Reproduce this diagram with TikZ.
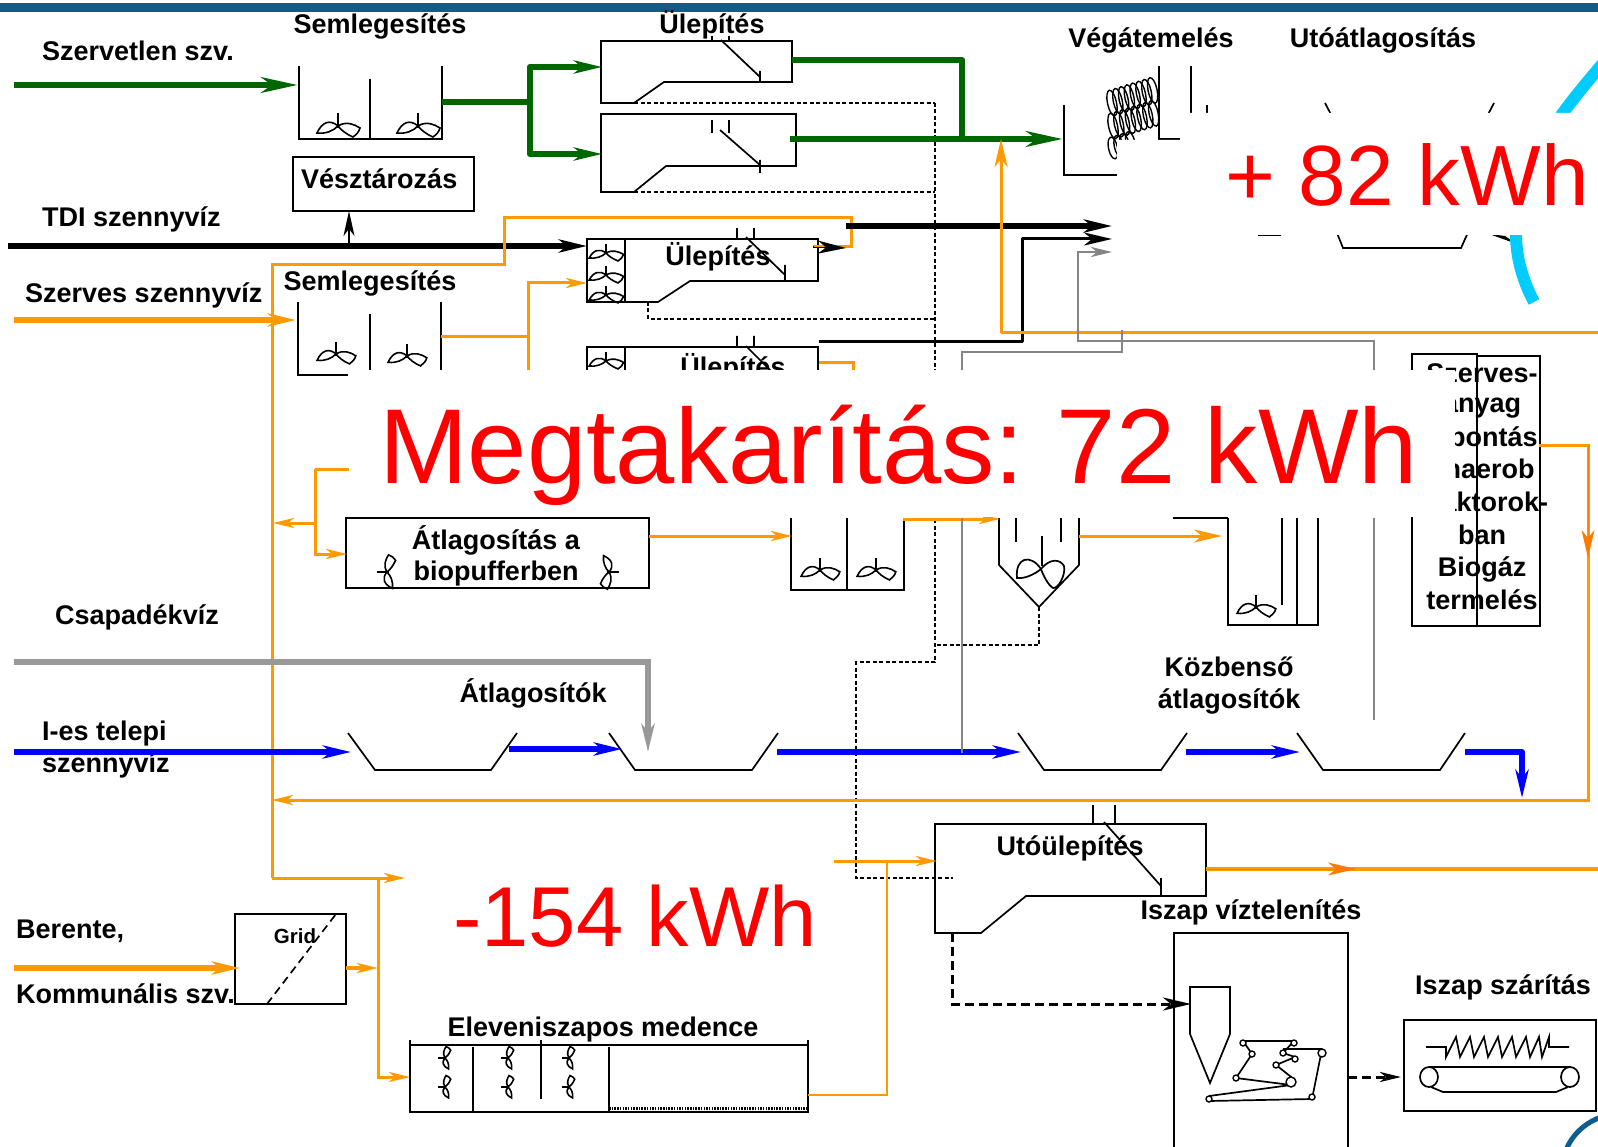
\documentclass[tikz,border=0pt]{standalone}
\usepackage{fontspec}
\setmainfont{Liberation Sans}
\usetikzlibrary{arrows.meta}
\definecolor{gr}{HTML}{006600}
\definecolor{or}{HTML}{FF9900}
\definecolor{bl}{HTML}{0000FF}
\definecolor{gy}{HTML}{999999}
\definecolor{gd}{HTML}{858585}
\definecolor{barb}{HTML}{0F5C8F}
\definecolor{cy}{HTML}{00CCFF}
\tikzset{
  lbl/.style={font=\fontsize{27}{30}\selectfont\bfseries,anchor=base,inner sep=0pt,yshift=-1pt},
  lbll/.style={lbl,anchor=base west},
  big/.style={font=\fontsize{#1}{#1}\selectfont,text=red,anchor=base west,inner sep=0pt},
  shp/.style={draw=black,line width=1.7pt},
  thin shp/.style={draw=black,line width=1.2pt},
  hug/.style={-{Stealth[length=36pt,width=15pt,inset=10pt]}},
  mid/.style={-{Stealth[length=28pt,width=13pt,inset=8pt]}},
  sml/.style={-{Stealth[length=21pt,width=10pt,inset=6pt]}},
  upt/.style={-{Stealth[length=25pt,width=11pt,inset=7pt]}},
  greenl/.style={draw=gr,line width=6.5pt},
  orl/.style={draw=or,line width=3pt},
  orb/.style={draw=or,line width=6pt},
  blb/.style={draw=bl,line width=6pt},
  grl/.style={draw=gd,line width=2.9pt},
  dsh/.style={draw=black,line width=1.6pt,dash pattern=on 4pt off 2.5pt},
  dshb/.style={draw=black,line width=3pt,dash pattern=on 9pt off 5pt},
  pics/mixer/.style={code={
    \draw[shp,line width=1.6pt] (0,-13)--(0,2);
    \draw[shp,line width=1.6pt] (0,0) .. controls (-8,-7) and (-16,-4) .. (-21,7) .. controls (-12,8) and (-5,5) .. (0,0)
       .. controls (8,-5) and (16,-2) .. (22,2) .. controls (21,6) and (18,9) .. (15,11) .. controls (8,8) and (3,4) .. (0,0);
  }},
}
\begin{document}
\begin{tikzpicture}[x=1pt,y=-1pt]
\useasboundingbox (0,0) rectangle (1598,1147);
\fill[white] (0,0) rectangle (1598,1147);
\foreach \n/\p in {
 gA/{14,85},gB/{298,85},gC/{442,102},gD/{530,102},gE/{530,67},gF/{602,67},gG/{530,154},gH/{602,154},
 gI/{792,60},gJ/{962,60},gK/{962,139},gL/{790,139},gM/{1063,139},
 kA/{8,246},kB/{587,246},kC/{349,246},kD/{349,211},kE/{846,226},kF/{1112,226},kG/{819,342},kH/{1022,342},kI/{1022,239},kJ/{1112,239},
 oA/{14,320},oB/{296,320},oC/{272,265},oD/{504,265},oE/{504,218},oF/{851,218},oG/{851,247},oH/{813,247},oI/{846,248},
 oJ/{441,337},oK/{528,337},oL/{528,283},oM/{587,283},oN/{528,370},
 oO/{272,878},oP/{405,878},oQ/{378,878},oR/{378,1077},oS/{410,1077},
 oT/{349,469},oU/{315,469},oV/{315,554},oW/{347,554},oX/{315,523},oY/{273,523},
 oZ/{1001,333},pA/{1001,139},pB/{1598,333},pC/{819,363},pD/{853,363},pE/{853,370},
 pF/{649,536},pG/{792,536},pH/{903,519},pI/{1000,519},pJ/{1079,536},pK/{1222,536},
 pL/{1539,445},pM/{1588,445},pN/{1588,800},pO/{272,800},pP/{1588,558},
 pQ/{14,968},pR/{240,968},pS/{346,968},pT/{378,968},
 pU/{808,1095},pV/{887,1095},pW/{887,861},pX/{834,861},pY/{937,861},pZ/{1206,869},qA/{1598,869},qB/{1356,869},
 yA/{14,662},yB/{648,662},yC/{648,752},yD/{1122,330},yE/{1122,352},yF/{962,352},yG/{962,370},yH/{1078,252},yI/{1078,341},yJ/{1374,341},yK/{1374,370},yL/{1374,518},yM/{1374,720},yN/{962,518},yO/{962,753},yP/{1112,252},
 bA/{14,752},bB/{351,752},bC/{509,749},bD/{622,749},bE/{777,752},bF/{1021,752},bG/{1186,752},bH/{1300,752},bI/{1465,752},bJ/{1522,752},bK/{1522,798},
 dA/{634,103},dB/{935,103},dC/{634,192},dD/{935,192},dE/{648,302},dF/{648,319},dG/{935,319},dH/{935,662},dI/{856,662},dJ/{856,878},dK/{953,878},dL/{1039,607},dM/{1039,645},dN/{935,645},
 eA/{952,933},eB/{952,1004},eC/{1191,1004},eD/{1348,1077},eE/{1401,1077}}
 {\coordinate (\n) at (\p);}

% top bar
\fill[barb] (0,3) rectangle (1598,12);

% === tanks ===
\draw[shp] (299,66)--(299,139)--(442,139)--(442,66);
\draw[shp] (370,79)--(370,139);
\pic at (338,126) {mixer}; \pic at (418,126) {mixer};
\draw[shp] (601,41)--(792,41)--(792,82)--(664,82)--(634,103)--(601,103)--cycle;
\draw[shp] (712,36)--(712,41) (729,36)--(729,41);
\draw[shp] (721,40)--(760,77) (760,71)--(760,82);
\draw[shp] (601,114)--(796,114)--(796,166)--(666,166)--(634,192)--(601,192)--cycle;
\draw[shp] (712,120)--(712,133) (729,120)--(729,133);
\draw[shp] (720,130)--(760,165) (760,160)--(760,173);
\draw[thin shp] (293,157) rectangle (474,211);
\draw[shp] (587,239)--(818,239)--(818,281)--(690,281)--(658,302)--(587,302)--cycle;
\draw[shp] (625,239)--(625,302);
\draw[shp] (737,228)--(737,240) (754,228)--(754,240);
\draw[shp] (746,237)--(785,275) (785,265)--(785,281);
\pic[xscale=.8,yscale=.72] at (606,253) {mixer}; \pic[xscale=.8,yscale=.72] at (606,275) {mixer}; \pic[xscale=.8,yscale=.72] at (606,295) {mixer};
\draw[shp] (298,302)--(298,375)--(348,375);
\draw[shp] (370,314)--(370,375) (441,302)--(441,375);
\pic[scale=.9] at (336,354) {mixer}; \pic[scale=.9] at (407,356) {mixer};
\draw[shp] (587,375)--(587,347)--(818,347)--(818,375) (625,347)--(625,375);
\draw[shp] (737,336)--(737,348) (754,336)--(754,348) (746,346)--(785,385);
\pic[xscale=.8,yscale=.72] at (606,361) {mixer};
% Vegatemeles
\draw[shp] (1064,105)--(1064,175)--(1125,175);
\draw[shp] (1159,66)--(1159,139)--(1180,139) (1191,66)--(1191,120) (1207,105)--(1207,120);
\draw[shp] (1325,103)--(1335,122) (1494,103)--(1484,122);
\begin{scope}
\clip (1100,75) rectangle (1159,160);
\foreach \i in {0,...,7}{
  \draw[black,line width=1.4pt] (1112+5.8*\i,103-1.8*\i) ellipse[x radius=4.5,y radius=13,rotate=12];
  \draw[black,line width=1.4pt] (1113+5.8*\i,126-1.8*\i) ellipse[x radius=4.5,y radius=13,rotate=12];
}
\foreach \i in {0,1,2,3}{
  \draw[black,line width=1.4pt] (1113+5.8*\i,148-1.8*\i) ellipse[x radius=4.5,y radius=11,rotate=12];
}
\end{scope}
\draw[shp] (1258,235)--(1281,235)  (1335,228)--(1343,248)--(1461,248)--(1470,228);
\fill[black] (1489,234)--(1517,244)--(1505,236)--cycle;
\draw[cy,line width=12pt] (1604,62) .. controls (1560,115) and (1480,200) .. (1534,302);
% Szerves box
\draw[shp,line width=2.3pt] (1412,354)--(1477,354)--(1477,626)--(1412,626)--cycle;
\draw[shp] (1477,356)--(1540,356)--(1540,626)--(1477,626);
% Atlagositas box
\draw[shp] (346,518) rectangle (649,588);
\pic[rotate=90,scale=.78] at (387,572) {mixer};
\pic[rotate=-90,scale=.78] at (609,572) {mixer};
% tank 3
\draw[shp] (791,518)--(791,590)--(904,590)--(904,518) (847,518)--(847,590);
\pic[scale=.9] at (820,570) {mixer}; \pic[scale=.9] at (876,570) {mixer};
% cone
\draw[shp] (999,518)--(999,565)--(1039,607)--(1079,565)--(1079,518);
\draw[shp] (1016,518)--(1016,542) (1061,518)--(1061,542) (1042,536)--(1042,566);
\draw[shp] (1041,569) .. controls (1030,553) and (1015,558) .. (1017,578) .. controls (1025,579) and (1035,574) .. (1041,569)
   .. controls (1050,558) and (1060,559) .. (1064,566) .. controls (1066,575) and (1058,589) .. (1053,588) .. controls (1048,585) and (1043,575) .. (1041,569);
% anoxic tank
\draw[thin shp] (1173,518)--(1228,518);
\draw[shp] (1228,518)--(1228,625)--(1318,625)--(1318,518) (1297,518)--(1297,625) (1282,518)--(1282,605);
\pic[scale=.9] at (1256,607) {mixer};
% troughs
\draw[shp] (348,733)--(375,770)--(491,770)--(517,733);
\draw[shp] (609,733)--(635,770)--(752,770)--(778,733);
\draw[shp] (1018,733)--(1044,770)--(1161,770)--(1187,733);
\draw[shp] (1297,733)--(1323,770)--(1440,770)--(1465,733);
% Grid
\draw[shp] (235,914) rectangle (346,1004);
\draw[dsh,line width=1.7pt,dash pattern=on 8pt off 5pt] (267,1004)--(336,914);
% Eleveniszapos
\draw[thin shp] (410,1045)--(808,1045);
\draw[shp] (410,1040)--(410,1112)--(808,1112)--(808,1040);
\draw[shp] (473,1047)--(473,1112) (541,1040)--(541,1099) (609,1047)--(609,1112);
\draw[draw=black,line width=3pt,dash pattern=on 1.5pt off 1.2pt] (609,1108)--(807,1108);
\foreach \x in {445,508,569}{
 \pic[rotate=90,scale=.52] at (\x,1058) {mixer};
 \pic[rotate=90,scale=.52] at (\x,1087) {mixer};
}
% Utoulepites
\draw[shp] (935,824)--(1206,824)--(1206,896)--(1026,896)--(981,933)--(935,933)--cycle;
\draw[shp] (1093,805)--(1093,824) (1115,805)--(1115,824);
\draw[shp] (1104,822)--(1161,886) (1161,878)--(1161,896);
% Iszap viztelenites
\draw[shp] (1174,1147)--(1174,933)--(1348,933)--(1348,1147);
\draw[shp] (1190,987)--(1230,987)--(1230,1034)--(1210,1083)--(1190,1034)--cycle;
\draw[shp,line join=round] (1209,1096)--(1291,1085)--(1236,1078)--(1252,1054)--(1243,1041)--(1294,1041)--(1283,1053)--(1295,1057)--(1276,1065)--(1295,1080);
\draw[shp,line join=round] (1283,1049)--(1322,1049)--(1312,1099)--(1209,1101);
\foreach \x/\y/\r in {1243/1043/3,1294/1043/3,1252/1054/3,1283/1053/3,1322/1053/4,1295/1059/3,1276/1065/3,1291/1082/5,1236/1078/3,1209/1099/3,1312/1097/3}{
 \draw[black,fill=white,line width=1.4pt] (\x,\y) circle[radius=\r];
}
% Iszap szaritas
\draw[shp] (1404,1020) rectangle (1596,1111);
\draw[shp] (1426,1047)--(1446,1047)--(1446,1057)--(1456,1037)--(1460,1057)--(1470,1037)--(1474,1057)--(1484,1037)--(1488,1057)--(1498,1037)--(1502,1057)--(1512,1037)--(1516,1057)--(1526,1037)--(1530,1057)--(1539,1037)--(1542,1057)--(1549,1037)--(1549,1047)--(1569,1047);
\draw[shp] (1429,1077) ellipse[x radius=9,y radius=10];
\draw[shp] (1570,1077) ellipse[x radius=9,y radius=10];
\draw[shp] (1429,1067)--(1570,1067) (1431,1087)--(1443,1092)--(1556,1092)--(1568,1087);
\draw[barb,line width=5pt] (1604,1116) .. controls (1585,1122) and (1572,1135) .. (1566,1150);

% === labels ===
\node[lbll] (t1) at (42,60) {Szervetlen szv.};
\node[lbl] (t2) at (380,33) {Semlegesítés};
\node[lbl] (t3) at (712,33) {Ülepítés};
\node[lbll] (t4) at (301,188) {Vésztározás};
\node[lbll] (t5) at (42,226) {TDI szennyvíz};
\node[lbll] (t6) at (25,302) {Szerves szennyvíz};
\node[lbl] (t7) at (370,290) {Semlegesítés};
\node[lbl] (t8) at (718,265) {Ülepítés};
\node[lbl] (t9) at (733,376) {Ülepítés};
\node[lbl] (t10) at (1151,47) {Végátemelés};
\node[lbl] (t11) at (1383,47) {Utóátlagosítás};
\node[lbl] (t12) at (496,548) {Átlagosítás a};
\node[lbl] (t13) at (496,579) {biopufferben};
\node[lbl] (t14) at (533,701) {Átlagosítók};
\node[lbl] (t15) at (137,623) {Csapadékvíz};
\node[lbll] (t16) at (42,739) {I-es telepi};
\node[lbll] (t17) at (42,771) {szennyvíz};
\node[lbl] (t18) at (1229,675) {Közbenső};
\node[lbl] (t19) at (1229,707) {átlagosítók};
\node[lbl] (s1) at (1482,381) {Szerves-};
\node[lbl] (s2) at (1482,412) {anyag};
\node[lbl] (s3) at (1482,445) {lebontás};
\node[lbl] (s4) at (1482,477) {anaerob};
\node[lbl] (s5) at (1482,510) {reaktorok-};
\node[lbl] (s6) at (1482,543) {ban};
\node[lbl] (s7) at (1482,575) {Biogáz};
\node[lbl] (s8) at (1482,608) {termelés};
\node[lbll] (t20) at (16,937) {Berente,};
\node[lbll] (t21) at (16,1002) {Kommunális szv.};
\node[lbl,font=\fontsize{20.5}{24}\selectfont\bfseries] (t22) at (295,942) {Grid};
\node[lbl] (t23) at (603,1035) {Eleveniszapos medence};
\node[lbl] (t24) at (1070,854) {Utóülepítés};
\node[lbl] (t25) at (1251,918) {Iszap víztelenítés};
\node[lbl] (t26) at (1503,993) {Iszap szárítás};

% === dashed lines ===
\draw[dsh] (dA)--(dB) (dC)--(dD) (dE)--(dF)--(dG) (dB)--(dH)--(dI)--(dJ)--(dK) (dL)--(dM)--(dN);
\draw[dshb,mid] (eA)--(eB)--(eC);
\draw[dshb,sml] (eD)--(eE);

% === connectors ===
\draw[greenl,hug] (gA)--(gB);
\draw[greenl] (gC)--(gD);
\draw[greenl,mid,line join=round] (gD)--(gE)--(gF);
\draw[greenl,mid,line join=round] (gD)--(gG)--(gH);
\draw[greenl,line join=round] (gI)--(gJ)--(gK);
\draw[greenl,hug] (gL)--(gM);
\draw[black,line width=6pt,mid] (kA)--(kB);
\draw[black,line width=1.7pt,upt] (kC)--(kD);
\draw[orl] (oO)--(oC)--(oD)--(oE)--(oF)--(oG)--(oH);
\draw[black,line width=6pt,mid] (kE)--(kF);
\draw[black,line width=3pt,mid,line join=round] (kG)--(kH)--(kI)--(kJ);
\draw[black,line width=0pt,mid] (oH)--(oI);
\draw[orb,mid] (oA)--(oB);
\draw[orl] (oJ)--(oK);
\draw[orl,sml] (oN)--(oL)--(oM);
\draw[orl,sml] (oO)--(oP);
\draw[orl,sml] (oQ)--(oR)--(oS);
\draw[orl] (oT)--(oU);
\draw[orl,sml] (oU)--(oV)--(oW);
\draw[orl,sml] (oX)--(oY);
\draw[orl,mid] (oZ)--(pA);
\draw[orl] (oZ)--(pB);
\draw[orl] (pC)--(pD)--(pE);
\draw[orl,sml] (pF)--(pG);
\draw[orl,sml] (pH)--(pI);
\draw[orl,mid] (pJ)--(pK);
\draw[orl,sml] (pL)--(pM)--(pN)--(pO);
\draw[draw=or!80!red,line width=0pt,mid] (pM)--(pP);
\draw[orb,mid] (pQ)--(pR);
\draw[orl,line width=4pt,sml] (pS)--(pT);
\draw[or,line width=1.3pt] (pU)--(pV)--(pW);
\draw[orl,sml] (pX)--(pY);
\draw[orl,line width=3.5pt] (pZ)--(qA);
\draw[draw=or!80!red,line width=0pt,mid] (pZ)--(qB);
\draw[gy,line width=6pt,mid] (yA)--(yB)--(yC);
\draw[grl] (yD)--(yE)--(yF)--(yG);
\draw[grl,sml] (yK)--(yJ)--(yI)--(yH)--(yP);
\draw[grl] (yL)--(yM);
\draw[blb,mid] (bA)--(bB);
\draw[blb,mid] (bC)--(bD);
\draw[blb,mid] (bE)--(bF);
\draw[blb,mid] (bG)--(bH);
\draw[blb,mid,line join=round] (bI)--(bJ)--(bK);
\draw[gd,line width=2.4pt] (yN)--(yO);

% === masks ===
\fill[white] (349,370) rectangle (1455,517);
\fill[white] (1117,140)--(1182,140)--(1182,113)--(1598,113)--(1598,235)--(1117,235)--cycle;

% === big red ===
\node[big=106.5] (r1) at (379,483) {Megtakarítás:\kern3pt\ 72 kWh};
\node[big=85.5] (r2) at (1225,206) {+ 82 kWh};
\node[big=85] (r3) at (453,946) {-154 kWh};
\end{tikzpicture}
\end{document}
